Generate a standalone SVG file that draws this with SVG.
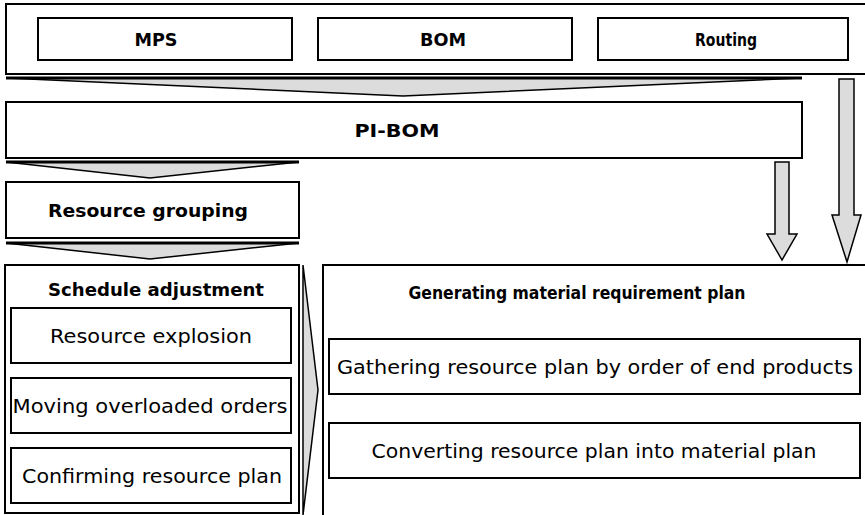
<svg xmlns="http://www.w3.org/2000/svg" width="865" height="515" viewBox="0 0 865 515">
<style>
.box{fill:#fff;stroke:#000;stroke-width:2}
.arr{fill:#dcdcdc;stroke:#000;stroke-width:1.5;stroke-linejoin:miter}
.bar{stroke:#000;stroke-width:3}
text{font-family:"DejaVu Sans","Liberation Sans",sans-serif;fill:#000;text-anchor:middle}
.b{font-weight:bold;font-size:18px}
.r{font-size:19px}
</style>
<g id="top-inputs">
<rect class="box" x="6" y="4" width="870" height="70"/>
</g>
<g id="mps"><rect class="box" x="38" y="18" width="254" height="42"/><text class="b" x="156" y="46" textLength="43" lengthAdjust="spacingAndGlyphs">MPS</text></g>
<g id="bom"><rect class="box" x="318" y="18" width="254" height="42"/><text class="b" x="443" y="46" textLength="46" lengthAdjust="spacingAndGlyphs">BOM</text></g>
<g id="routing"><rect class="box" x="598" y="18" width="250" height="42"/><text class="b" x="726" y="46" textLength="62" lengthAdjust="spacingAndGlyphs">Routing</text></g>
<g id="pi-bom"><rect class="box" x="6" y="102" width="796" height="56"/><text class="b" x="397" y="137" textLength="85" lengthAdjust="spacingAndGlyphs">PI-BOM</text></g>
<g id="resource-grouping"><rect class="box" x="6" y="182" width="293" height="56"/><text class="b" x="148" y="217" textLength="200" lengthAdjust="spacingAndGlyphs">Resource grouping</text></g>
<g id="schedule-adjustment">
<rect class="box" x="5" y="265" width="294" height="248"/>
<text class="b" x="156" y="296" textLength="216" lengthAdjust="spacingAndGlyphs">Schedule adjustment</text>
</g>
<g id="resource-explosion"><rect class="box" x="11" y="308" width="280" height="55"/><text class="r" x="151" y="343" textLength="202" lengthAdjust="spacingAndGlyphs">Resource explosion</text></g>
<g id="moving-orders"><rect class="box" x="11" y="378" width="280" height="55"/><text class="r" x="150" y="413" textLength="275" lengthAdjust="spacingAndGlyphs">Moving overloaded orders</text></g>
<g id="confirming"><rect class="box" x="11" y="448" width="280" height="55"/><text class="r" x="152" y="483" textLength="260" lengthAdjust="spacingAndGlyphs">Confirming resource plan</text></g>
<g id="generating-mrp">
<rect class="box" x="323" y="265" width="560" height="260"/>
<text class="b" x="577" y="299" font-size="17" textLength="337" lengthAdjust="spacingAndGlyphs">Generating material requirement plan</text>
</g>
<g id="gathering"><rect class="box" x="329" y="339" width="531" height="55"/><text class="r" x="595" y="374" textLength="516" lengthAdjust="spacingAndGlyphs">Gathering resource plan by order of end products</text></g>
<g id="converting"><rect class="box" x="329" y="423" width="531" height="55"/><text class="r" x="594" y="458" textLength="445" lengthAdjust="spacingAndGlyphs">Converting resource plan into material plan</text></g>
<g id="connectors">
<polygon class="arr" points="6,78 802,78 403,96"/>
<line class="bar" x1="6" y1="78" x2="802" y2="78"/>
<polygon class="arr" points="6,162 299,162 150,178"/>
<line class="bar" x1="6" y1="162" x2="299" y2="162"/>
<polygon class="arr" points="6,243 299,243 150,259"/>
<line class="bar" x1="6" y1="243" x2="299" y2="243"/>
<polygon class="arr" points="303,265 318,390 303,515"/>
<polygon class="arr" points="839,79 854,79 854,215 861,215 847,262 832,215 839,215"/>
<polygon class="arr" points="775,162 789,162 789,234 797,234 782,260 767,234 775,234"/>
</g>
</svg>
